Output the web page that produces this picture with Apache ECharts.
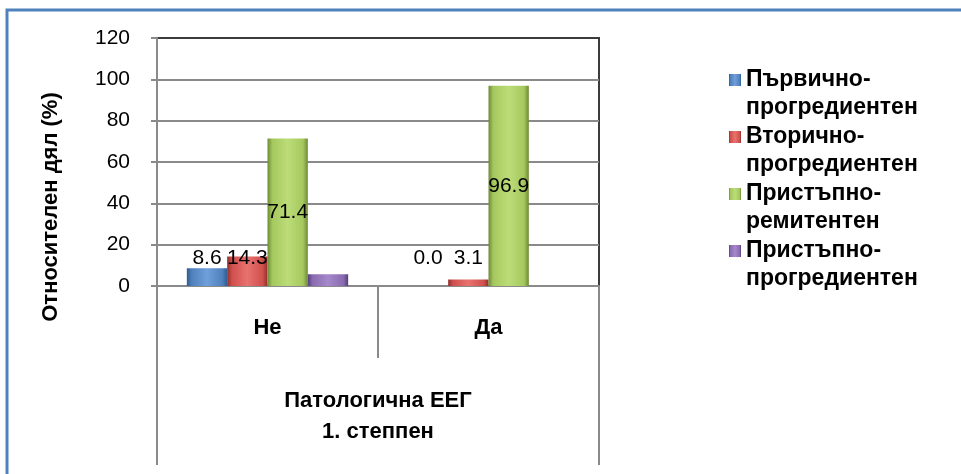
<!DOCTYPE html>
<html>
<head>
<meta charset="utf-8">
<script src="https://cdn.jsdelivr.net/npm/echarts@6/dist/echarts.min.js"></script>
<style>
  html, body { margin: 0; padding: 0; background: #fff; }
  #chart { width: 961px; height: 474px; }
</style>
</head>
<body>
<div id="chart"></div>
<script>
const categories = ["Не", "Да"];
const groupLabel = ["Патологична ЕЕГ\n1. степпен"];
const seriesNames = [
  "Първично-\nпрогредиентен",
  "Вторично-\nпрогредиентен",
  "Пристъпно-\nремитентен",
  "Пристъпно-\nпрогредиентен"
];
const primaryProgressive = [8.6, 0.0];
const secondaryProgressive = [14.3, 3.1];
const relapsingRemitting = [71.4, 96.9];
const relapsingProgressive = [5.7, 0.0];
const yTicks = [0, 20, 40, 60, 80, 100, 120];

const font = "Liberation Sans";
const gray = "#8a8a8a";

// colours: [dark edge, face, light top]
const palette = [
  ["#2f5b8f", "#4f81bd", "#6f9fdc"],
  ["#8f2f2c", "#d0504d", "#e8726f"],
  ["#6d8a35", "#a5c85e", "#bcdc78"],
  ["#55407a", "#8a6bb0", "#a688cc"]
];

function barFill(c) {
  return new echarts.graphic.LinearGradient(0, 0, 1, 0, [
    { offset: 0, color: c[0] },
    { offset: 0.12, color: c[1] },
    { offset: 0.5, color: c[2] },
    { offset: 0.88, color: c[1] },
    { offset: 1, color: c[0] }
  ]);
}

const smallLabel = {
  show: true,
  position: "insideBottom",
  offset: [0, -12],
  color: "#000",
  fontFamily: font,
  fontSize: 21,
  formatter: (p) => p.value.toFixed(1)
};

const myChart = echarts.init(document.getElementById("chart"));
const values = [primaryProgressive, secondaryProgressive, relapsingRemitting, relapsingProgressive];

const series = values.map((v, i) => ({
  name: seriesNames[i],
  type: "bar",
  data: v,
  barGap: 0,
  barCategoryGap: "27%",
  itemStyle: { color: barFill(palette[i]), borderWidth: 0 },
  label: i < 2 ? smallLabel
    : i === 2 ? { show: true, position: "inside", color: "#000", fontFamily: font, fontSize: 21,
                  formatter: (p) => p.value.toFixed(1) }
    : { show: false }
}));

const option = {
  animation: false,
  backgroundColor: "#fff",
  graphic: [
    {
      type: "rect",
      shape: { x: 7, y: 10, width: 1200, height: 1000 },
      style: { fill: "none", stroke: "#4f81bd", lineWidth: 3 },
      silent: true
    },
    {
      type: "text",
      x: 51,
      y: 207,
      rotation: Math.PI / 2,
      style: {
        text: "Относителен дял (%)",
        fontFamily: font,
        fontSize: 22,
        fontWeight: "bold",
        fill: "#000",
        align: "center",
        verticalAlign: "middle"
      }
    }
  ],
  grid: {
    left: 157,
    right: 362,
    top: 38,
    bottom: 188,
    show: true,
    borderColor: "#3c3c3c",
    borderWidth: 2
  },
  legend: {
    orient: "vertical",
    left: 729,
    top: 38,
    padding: 0,
    itemGap: -27,
    itemWidth: 12,
    itemHeight: 12,
    icon: "rect",
    data: seriesNames,
    // leading empty line so the marker sits beside the first line of text
    formatter: (name) => "\n" + name,
    textStyle: {
      fontFamily: font,
      fontSize: 23,
      fontWeight: "bold",
      color: "#000",
      lineHeight: 28
    }
  },
  xAxis: [
    {
      type: "category",
      data: categories,
      position: "bottom",
      axisLine: { show: true, lineStyle: { color: gray, width: 2 } },
      axisTick: { show: true, length: 72, interval: 0, lineStyle: { color: gray, width: 2 } },
      axisLabel: {
        margin: 31,
        color: "#000",
        fontFamily: font,
        fontSize: 22,
        fontWeight: "bold",
        interval: 0
      },
      splitLine: { show: false }
    },
    {
      type: "category",
      data: groupLabel,
      position: "bottom",
      axisLine: { show: false },
      axisTick: { show: true, length: 179, lineStyle: { color: gray, width: 2 } },
      axisLabel: {
        margin: 99,
        color: "#000",
        fontFamily: font,
        fontSize: 22,
        fontWeight: "bold",
        lineHeight: 31,
        align: "center"
      },
      splitLine: { show: false }
    }
  ],
  yAxis: {
    type: "value",
    min: yTicks[0],
    max: yTicks[yTicks.length - 1],
    interval: 20,
    axisLine: { show: true, lineStyle: { color: gray, width: 2 } },
    axisTick: { show: true, length: 6, lineStyle: { color: gray, width: 2 } },
    axisLabel: {
      margin: 27,
      color: "#000",
      fontFamily: font,
      fontSize: 21
    },
    splitLine: { show: true, showMaxLine: false, lineStyle: { color: gray, width: 2 } }
  },
  series: series
};

option && myChart.setOption(option);
</script>
</body>
</html>
